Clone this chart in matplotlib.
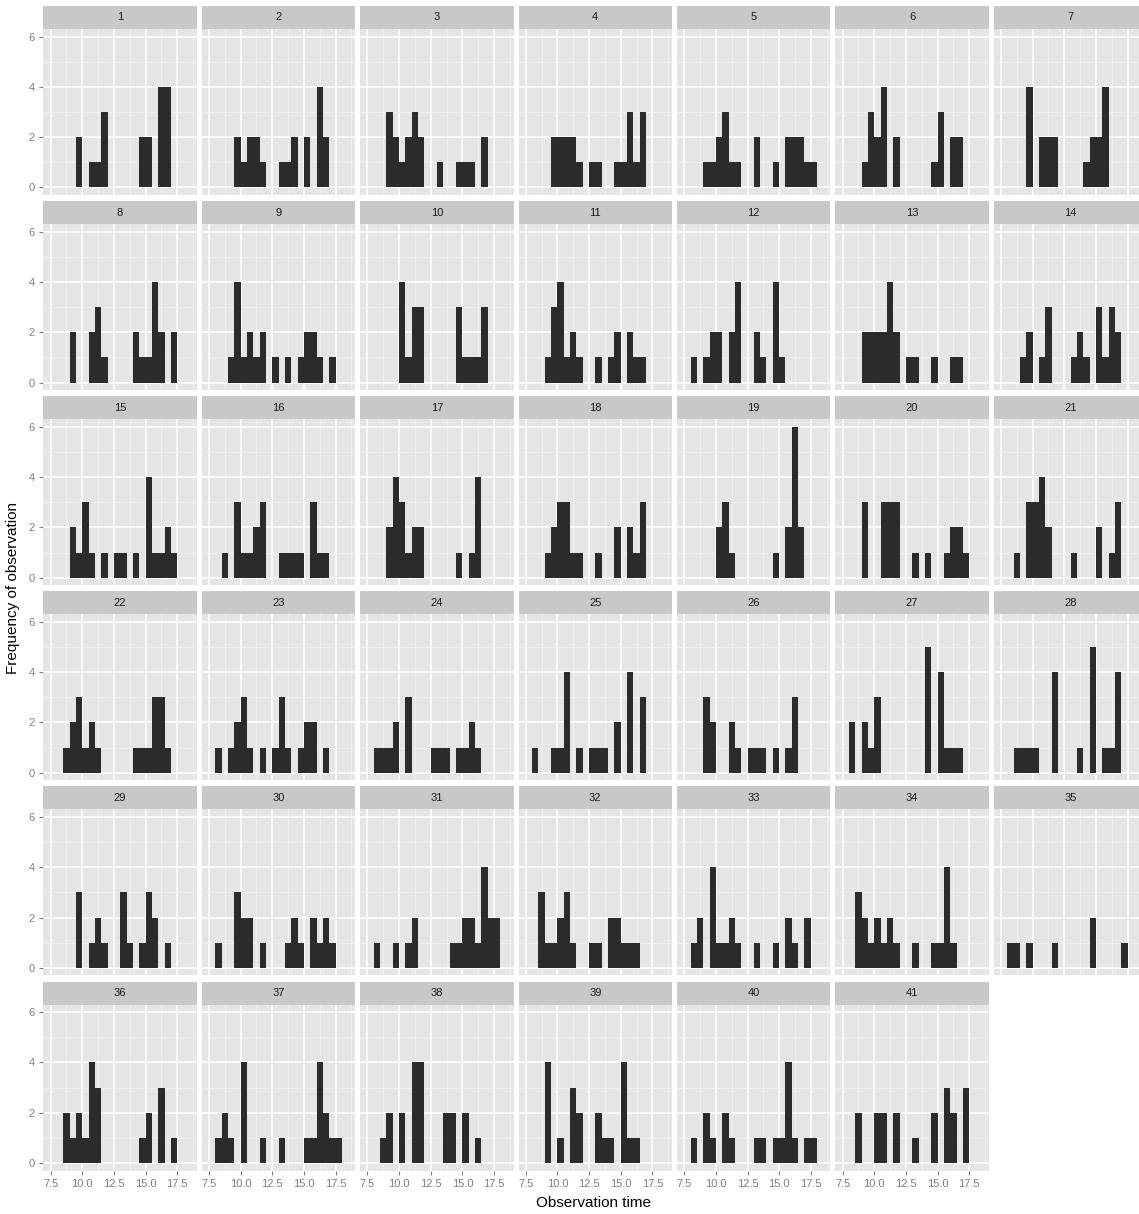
import matplotlib.pyplot as plt

plt.rcParams['font.family'] = ['Liberation Sans', 'DejaVu Sans']

# histogram bins (binwidth 0.5) and per-subject counts
bin_edges = [8.0, 8.5, 9.0, 9.5, 10.0, 10.5, 11.0, 11.5, 12.0, 12.5, 13.0,
             13.5, 14.0, 14.5, 15.0, 15.5, 16.0, 16.5, 17.0, 17.5, 18.0]

counts = [
    [0, 0, 0, 2, 0, 1, 1, 3, 0, 0, 0, 0, 0, 2, 2, 0, 4, 4, 0, 0],  # 1
    [0, 0, 0, 2, 1, 2, 2, 1, 0, 0, 1, 1, 2, 0, 2, 0, 4, 2, 0, 0],  # 2
    [0, 0, 3, 2, 1, 2, 3, 2, 0, 0, 1, 0, 0, 1, 1, 1, 0, 2, 0, 0],  # 3
    [0, 0, 0, 2, 2, 2, 2, 1, 0, 1, 1, 0, 0, 1, 1, 3, 1, 3, 0, 0],  # 4
    [0, 0, 1, 1, 2, 3, 1, 1, 0, 0, 2, 0, 0, 1, 0, 2, 2, 2, 1, 1],  # 5
    [0, 0, 1, 3, 2, 4, 0, 2, 0, 0, 0, 0, 0, 1, 3, 0, 2, 2, 0, 0],  # 6
    [0, 0, 0, 4, 0, 2, 2, 2, 0, 0, 0, 0, 1, 2, 2, 4, 0, 0, 0, 0],  # 7
    [0, 0, 2, 0, 0, 2, 3, 1, 0, 0, 0, 0, 2, 1, 1, 4, 2, 0, 2, 0],  # 8
    [0, 0, 1, 4, 1, 2, 1, 2, 0, 1, 0, 1, 0, 1, 2, 2, 1, 0, 1, 0],  # 9
    [0, 0, 0, 0, 4, 1, 3, 3, 0, 0, 0, 0, 0, 3, 1, 1, 1, 3, 0, 0],  # 10
    [0, 0, 1, 3, 4, 1, 2, 1, 0, 0, 1, 0, 1, 2, 0, 2, 1, 1, 0, 0],  # 11
    [1, 0, 1, 2, 2, 0, 2, 4, 0, 0, 2, 1, 0, 4, 1, 0, 0, 0, 0, 0],  # 12
    [0, 0, 2, 2, 2, 2, 4, 2, 0, 1, 1, 0, 0, 1, 0, 0, 1, 1, 0, 0],  # 13
    [0, 0, 1, 2, 0, 1, 3, 0, 0, 0, 1, 2, 1, 0, 3, 1, 3, 2, 0, 0],  # 14
    [0, 0, 2, 1, 3, 1, 0, 1, 0, 1, 1, 0, 1, 0, 4, 1, 1, 2, 1, 0],  # 15
    [0, 1, 0, 3, 1, 1, 2, 3, 0, 0, 1, 1, 1, 1, 0, 3, 1, 1, 0, 0],  # 16
    [0, 0, 2, 4, 3, 1, 2, 2, 0, 0, 0, 0, 0, 1, 0, 1, 4, 0, 0, 0],  # 17
    [0, 0, 1, 2, 3, 3, 1, 1, 0, 0, 1, 0, 0, 2, 0, 2, 1, 3, 0, 0],  # 18
    [0, 0, 0, 0, 2, 3, 1, 0, 0, 0, 0, 0, 0, 1, 0, 2, 6, 2, 0, 0],  # 19
    [0, 0, 3, 0, 0, 3, 3, 3, 0, 0, 1, 0, 1, 0, 0, 1, 2, 2, 1, 0],  # 20
    [0, 1, 0, 3, 3, 4, 2, 0, 0, 0, 1, 0, 0, 0, 2, 0, 1, 3, 0, 0],  # 21
    [0, 1, 2, 3, 1, 2, 1, 0, 0, 0, 0, 0, 1, 1, 1, 3, 3, 1, 0, 0],  # 22
    [1, 0, 1, 2, 3, 1, 0, 1, 0, 1, 3, 1, 0, 1, 2, 2, 0, 1, 0, 0],  # 23
    [1, 1, 1, 2, 0, 3, 0, 0, 0, 1, 1, 1, 0, 1, 1, 2, 1, 0, 0, 0],  # 24
    [1, 0, 0, 1, 1, 4, 0, 1, 0, 1, 1, 1, 0, 2, 0, 4, 0, 3, 0, 0],  # 25
    [0, 0, 3, 2, 0, 0, 2, 1, 0, 1, 1, 1, 0, 1, 0, 1, 3, 0, 0, 0],  # 26
    [2, 0, 2, 1, 3, 0, 0, 0, 0, 0, 0, 0, 5, 0, 4, 1, 1, 1, 0, 0],  # 27
    [0, 1, 1, 1, 1, 0, 0, 4, 0, 0, 0, 1, 0, 5, 0, 1, 1, 4, 0, 0],  # 28
    [0, 0, 0, 3, 0, 1, 2, 1, 0, 0, 3, 1, 0, 1, 3, 2, 0, 1, 0, 0],  # 29
    [1, 0, 0, 3, 2, 2, 0, 1, 0, 0, 0, 1, 2, 1, 0, 2, 1, 2, 1, 0],  # 30
    [1, 0, 0, 1, 0, 1, 2, 0, 0, 0, 0, 0, 1, 1, 2, 2, 1, 4, 2, 2],  # 31
    [0, 3, 1, 1, 2, 3, 1, 0, 0, 1, 1, 0, 2, 2, 1, 1, 1, 0, 0, 0],  # 32
    [1, 2, 0, 4, 1, 1, 2, 1, 0, 0, 1, 0, 0, 1, 0, 2, 1, 0, 2, 0],  # 33
    [0, 3, 2, 1, 2, 1, 2, 1, 0, 0, 1, 0, 0, 1, 1, 4, 1, 0, 0, 0],  # 34
    [1, 1, 0, 1, 0, 0, 0, 1, 0, 0, 0, 0, 0, 2, 0, 0, 0, 0, 1, 0],  # 35
    [0, 2, 1, 2, 1, 4, 3, 0, 0, 0, 0, 0, 0, 1, 2, 0, 3, 0, 1, 0],  # 36
    [1, 2, 1, 0, 4, 0, 0, 1, 0, 0, 1, 0, 0, 0, 1, 1, 4, 2, 1, 1],  # 37
    [0, 1, 2, 0, 2, 0, 4, 4, 0, 0, 0, 2, 2, 0, 2, 0, 1, 0, 0, 0],  # 38
    [0, 0, 4, 0, 1, 0, 3, 2, 0, 0, 2, 1, 1, 0, 4, 1, 1, 0, 0, 0],  # 39
    [1, 0, 2, 1, 0, 2, 1, 0, 0, 0, 1, 1, 0, 1, 1, 4, 1, 0, 1, 1],  # 40
    [0, 2, 0, 0, 2, 2, 0, 2, 0, 0, 1, 0, 0, 2, 0, 3, 2, 0, 3, 0],  # 41
]
panel_labels = [str(i) for i in range(1, len(counts) + 1)]

x_ticks = [7.5, 10.0, 12.5, 15.0, 17.5]
x_tick_labels = ['7.5', '10.0', '12.5', '15.0', '17.5']
x_minor = [8.75, 11.25, 13.75, 16.25, 18.75]
y_ticks = [0, 2, 4, 6]
y_minor = [1, 3, 5]

# layout in pixels (ggplot facet_wrap, 7 columns)
W, H = 1139, 1214
n_cols, n_rows = 7, 6
left0, col_step, pw = 43.3, 158.4, 153.5
top0, row_step, strip_h, ph = 6.0, 195.1, 23.0, 166.0

fig = plt.figure(figsize=(W / 100, H / 100), dpi=100)

for k, (lab, cnt) in enumerate(zip(panel_labels, counts)):
    r, c = divmod(k, n_cols)
    x0 = left0 + c * col_step
    y_strip = top0 + r * row_step
    y_top = y_strip + strip_h

    ax = fig.add_axes([x0 / W, 1 - (y_top + ph) / H, pw / W, ph / H])
    ax.set_facecolor('#E5E5E5')
    ax.stairs(cnt, bin_edges, fill=True, color='#2B2B2B', baseline=0, lw=0)
    ax.set_xlim(6.92, 19.05)
    ax.set_ylim(-0.3, 6.3)
    ax.set_xticks(x_ticks)
    ax.set_xticklabels(x_tick_labels)
    ax.set_xticks(x_minor, minor=True)
    ax.set_yticks(y_ticks)
    ax.set_yticks(y_minor, minor=True)
    ax.grid(which='major', color='white', lw=1.2)
    ax.grid(which='minor', color='#F2F2F2', lw=0.6)
    ax.set_axisbelow(True)
    for s in ax.spines.values():
        s.set_visible(False)
    ax.tick_params(which='minor', length=0)
    ax.tick_params(which='major', colors='#7F7F7F', labelsize=8,
                   length=3, width=0.8, pad=3)
    ax.tick_params(axis='x', labelbottom=(r == n_rows - 1), bottom=(r == n_rows - 1))
    ax.tick_params(axis='y', labelleft=(c == 0), left=(c == 0))

    sax = fig.add_axes([x0 / W, 1 - y_top / H, pw / W, strip_h / H])
    sax.set_facecolor('#C8C8C8')
    sax.set_xticks([])
    sax.set_yticks([])
    for s in sax.spines.values():
        s.set_visible(False)
    sax.text(0.5, 0.5, lab, ha='center', va='center', fontsize=8, color='#1A1A1A',
             transform=sax.transAxes)

fig.text(594 / W, 1 - 1203 / H, 'Observation time', ha='center', va='center', fontsize=11)
fig.text(13 / W, 1 - 588 / H, 'Frequency of observation', ha='center', va='center',
         fontsize=11, rotation=90)

fig.savefig('out.png', dpi=100)
